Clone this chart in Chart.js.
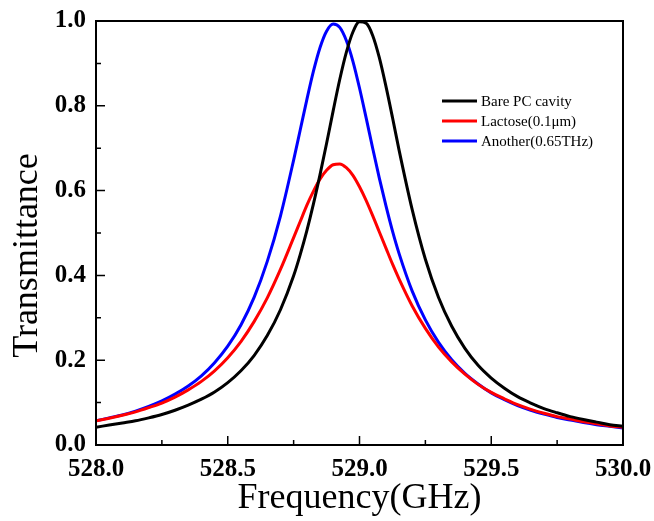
<!DOCTYPE html>
<html><head><meta charset="utf-8">
<script src="https://cdn.jsdelivr.net/npm/chart.js@4.4.0/dist/chart.umd.min.js"></script>
<style>html,body{margin:0;padding:0;background:#fff}#wrap{width:654px;height:521px}</style>
</head><body><div id="wrap"><canvas id="c" width="654" height="521"></canvas></div>
<script>
// Frequency samples (GHz)
const frequency = [528.00,528.05,528.10,528.15,528.20,528.25,528.30,528.35,528.40,528.45,
  528.50,528.55,528.60,528.65,528.70,528.75,528.775,528.80,528.825,528.85,
  528.875,528.90,528.925,528.95,528.975,529.00,529.025,529.05,529.075,529.10,
  529.125,529.15,529.20,529.25,529.30,529.35,529.40,529.45,
  529.50,529.55,529.60,529.65,529.70,529.75,529.80,529.85,529.90,529.95,530.00];
// Transmittance
const bareCavity = [0.042,0.047,0.052,0.057,0.064,0.072,0.082,0.094,0.108,0.125,
  0.147,0.175,0.211,0.258,0.319,0.399,0.449,0.505,0.568,0.637,
  0.711,0.788,0.862,0.926,0.974,0.998,0.995,0.966,0.914,0.847,
  0.773,0.696,0.555,0.438,0.348,0.280,0.228,0.188,
  0.158,0.134,0.114,0.099,0.086,0.076,0.067,0.060,0.054,0.048,0.044];
const lactose = [0.057,0.063,0.070,0.078,0.088,0.099,0.113,0.130,0.150,0.175,
  0.206,0.244,0.291,0.347,0.414,0.489,0.527,0.565,0.598,0.627,
  0.648,0.661,0.663,0.654,0.636,0.609,0.577,0.541,0.503,0.465,
  0.427,0.392,0.328,0.275,0.231,0.196,0.167,0.143,
  0.124,0.109,0.095,0.084,0.075,0.067,0.061,0.055,0.050,0.045,0.042];
const another = [0.057,0.064,0.071,0.080,0.091,0.104,0.120,0.139,0.163,0.194,
  0.233,0.283,0.348,0.433,0.540,0.672,0.743,0.814,0.881,0.937,
  0.976,0.993,0.985,0.954,0.905,0.842,0.772,0.700,0.630,0.565,
  0.505,0.452,0.363,0.295,0.242,0.201,0.169,0.144,
  0.123,0.107,0.093,0.082,0.073,0.065,0.059,0.053,0.048,0.044,0.040];
const seriesNames = ['Bare PC cavity', 'Lactose(0.1\u03bcm)', 'Another(0.65THz)'];
const seriesColors = ['#000000', '#ff0000', '#0000ff'];
const xTicks = [528.0, 528.5, 529.0, 529.5, 530.0];
const yTicks = [0.0, 0.2, 0.4, 0.6, 0.8, 1.0];
const xTitle = 'Frequency(GHz)';
const yTitle = 'Transmittance';

const SERIF = "'Liberation Serif','Times New Roman',serif";
const allSeries = [bareCavity, lactose, another];

const framePlugin = {
  id: 'frame',
  afterDatasetsDraw(chart) {
    const ctx = chart.ctx;
    const a = chart.chartArea;
    const xs = chart.scales.x, ys = chart.scales.y;
    ctx.save();
    ctx.strokeStyle = '#000';
    ctx.lineWidth = 2;
    ctx.strokeRect(a.left, a.top, a.right - a.left, a.bottom - a.top);
    ctx.lineWidth = 1.5;
    ctx.beginPath();
    for (let i = 0; i < xTicks.length; i++) {
      const px = xs.getPixelForValue(xTicks[i]);
      ctx.moveTo(px, a.bottom); ctx.lineTo(px, a.bottom - 9);
      if (i < xTicks.length - 1) {
        const mx = xs.getPixelForValue((xTicks[i] + xTicks[i + 1]) / 2);
        ctx.moveTo(mx, a.bottom); ctx.lineTo(mx, a.bottom - 5);
      }
    }
    for (let i = 0; i < yTicks.length; i++) {
      const py = ys.getPixelForValue(yTicks[i]);
      ctx.moveTo(a.left, py); ctx.lineTo(a.left + 9, py);
      if (i < yTicks.length - 1) {
        const my = ys.getPixelForValue((yTicks[i] + yTicks[i + 1]) / 2);
        ctx.moveTo(a.left, my); ctx.lineTo(a.left + 5, my);
      }
    }
    ctx.stroke();
    ctx.restore();
  },
  afterDraw(chart) {
    const ctx = chart.ctx;
    ctx.save();
    ctx.font = "15px " + SERIF;
    ctx.textBaseline = 'middle';
    ctx.textAlign = 'left';
    chart.data.datasets.forEach((ds, i) => {
      const y = 101 + i * 20;
      ctx.strokeStyle = ds.borderColor;
      ctx.lineWidth = 3;
      ctx.beginPath();
      ctx.moveTo(442, y); ctx.lineTo(477, y);
      ctx.stroke();
      ctx.fillStyle = '#000';
      ctx.fillText(ds.label, 481, y + 1);
    });
    ctx.restore();
  }
};

const datasets = allSeries.map((vals, i) => ({
  label: seriesNames[i],
  data: frequency.map((f, k) => ({ x: f, y: vals[k] })),
  borderColor: seriesColors[i],
  backgroundColor: seriesColors[i],
  borderWidth: 3,
  pointRadius: 0,
  fill: false,
  cubicInterpolationMode: 'monotone'
}));

new Chart(document.getElementById('c'), {
  type: 'line',
  data: { datasets },
  options: {
    responsive: false,
    animation: false,
    devicePixelRatio: 1,
    layout: { padding: { left: 0, right: 31, top: 21, bottom: 0 } },
    plugins: { legend: { display: false }, tooltip: { enabled: false } },
    scales: {
      x: {
        type: 'linear', min: 528, max: 530,
        afterBuildTicks: s => { s.ticks = xTicks.map(v => ({ value: v })); },
        afterFit: s => { s.height = 76; s.paddingLeft = 0; s.paddingRight = 0; },
        grid: { display: false, drawTicks: false },
        border: { display: false },
        ticks: {
          autoSkip: false, maxRotation: 0, padding: 10, color: '#000',
          font: { family: SERIF, size: 25, weight: 'bold' },
          callback: v => Number(v).toFixed(1)
        },
        title: { display: true, text: xTitle, color: '#000', padding: { top: 0, bottom: 1 },
          font: { family: SERIF, size: 36 } }
      },
      y: {
        type: 'linear', min: 0, max: 1,
        afterBuildTicks: s => { s.ticks = yTicks.map(v => ({ value: v })); },
        afterFit: s => { s.width = 96; s.paddingTop = 0; s.paddingBottom = 0; },
        grid: { display: false, drawTicks: false },
        border: { display: false },
        ticks: {
          padding: 10, color: '#000',
          font: { family: SERIF, size: 25, weight: 'bold' },
          callback: v => Number(v).toFixed(1)
        },
        title: { display: true, text: yTitle + '\u00a0\u00a0\u00a0\u00a0\u00a0', color: '#000', padding: { top: 6, bottom: 0 },
          font: { family: SERIF, size: 36 } }
      }
    }
  },
  plugins: [framePlugin]
});
</script>
</body></html>
